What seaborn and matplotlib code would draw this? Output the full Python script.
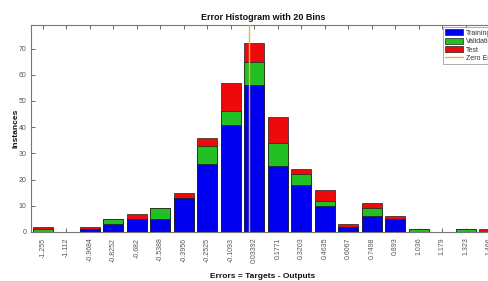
import matplotlib
matplotlib.use('Agg')
import matplotlib.pyplot as plt
import seaborn as sns
import pandas as pd
from matplotlib.patches import Patch
from matplotlib.lines import Line2D

# 데이터
bin_labels = ['-1.255', '-1.112', '-0.9684', '-0.8252', '-0.682', '-0.5388', '-0.3956',
              '-0.2525', '-0.1093', '0.03392', '0.1771', '0.3203', '0.4635', '0.6067',
              '0.7498', '0.893', '1.036', '1.179', '1.323', '1.466']
training = [0, 0, 1, 3, 5, 5, 13, 26, 41, 56, 25, 18, 10, 2, 6, 5, 0, 0, 0, 0]
validation = [1, 0, 0, 2, 0, 4, 0, 7, 5, 9, 9, 4, 2, 0, 3, 0, 1, 0, 1, 0]
test = [1, 0, 1, 0, 2, 0, 2, 3, 11, 7, 10, 2, 4, 1, 2, 1, 0, 0, 0, 1]

df = pd.DataFrame({'bin': bin_labels, 'train': training, 'val': validation, 'test': test})
df['train_val'] = df['train'] + df['val']
df['total'] = df['train_val'] + df['test']

c_train = '#0000f0'
c_val = '#22c022'
c_test = '#ee0a0a'
c_zero = '#f0b040'
grey = '#555555'

sns.set_theme(style='white')
plt.rcParams['font.family'] = ['Liberation Sans', 'DejaVu Sans']

fig = plt.figure(figsize=(4.88, 2.81), dpi=100)
ax = fig.add_axes([31 / 488, 49 / 281, 470 / 488, 207 / 281])

# 누적 막대 (위에서부터 겹쳐 그림)
kw = dict(width=0.85, edgecolor='#202020', linewidth=0.5, ax=ax)
sns.barplot(data=df, x='bin', y='total', color=c_test, saturation=1, **kw)
sns.barplot(data=df, x='bin', y='train_val', color=c_val, saturation=1, **kw)
sns.barplot(data=df, x='bin', y='train', color=c_train, saturation=1, **kw)

# 0 오차 위치 (범주 좌표로 변환)
c0 = float(bin_labels[0])
step = float(bin_labels[1]) - c0
zero_pos = (0 - c0) / step
ax.axvline(zero_pos, color=c_zero, linewidth=1.0, zorder=5)

ax.set_xlim(-0.5, 19.5)
ax.set_ylim(0, 79)
ax.set_yticks(range(0, 80, 10))
ax.tick_params(axis='both', direction='in', length=3, width=0.6, colors=grey,
               labelsize=5, top=True, left=True, bottom=True)
ax.tick_params(axis='x', pad=4)
plt.setp(ax.get_xticklabels(), rotation=90, ha='center', va='top')
for s in ax.spines.values():
    s.set_color('#777777')
    s.set_linewidth(0.8)

ax.set_xlabel('')
ax.set_ylabel('')
fig.text(263 / 488, 1 - 276 / 281, 'Errors = Targets - Outputs', ha='center', va='center',
         fontsize=6, fontweight='bold', color='#111111')
fig.text(16 / 488, 1 - 128 / 281, 'Instances', ha='center', va='center', rotation=90,
         fontsize=6, fontweight='bold', color='#111111')
fig.text(263 / 488, 1 - 17 / 281, 'Error Histogram with 20 Bins', ha='center', va='center',
         fontsize=6.5, fontweight='bold', color='#111111')

handles = [Patch(facecolor=c_train, edgecolor='#202020', linewidth=0.5),
           Patch(facecolor=c_val, edgecolor='#202020', linewidth=0.5),
           Patch(facecolor=c_test, edgecolor='#202020', linewidth=0.5),
           Line2D([0], [0], color=c_zero, linewidth=1)]
leg = fig.legend(handles, ['Training', 'Validation', 'Test', 'Zero Error'],
                 loc='upper left', bbox_to_anchor=(443 / 488, 1 - 27 / 281),
                 fontsize=5, frameon=True, fancybox=False, borderpad=0.3,
                 handlelength=2.6, handleheight=1.0, labelspacing=0.15,
                 handletextpad=0.4, borderaxespad=0)
leg.get_frame().set_edgecolor('#888888')
leg.get_frame().set_linewidth(0.6)
for t in leg.get_texts():
    t.set_color('#333333')

fig.savefig('out.png', dpi=100)
